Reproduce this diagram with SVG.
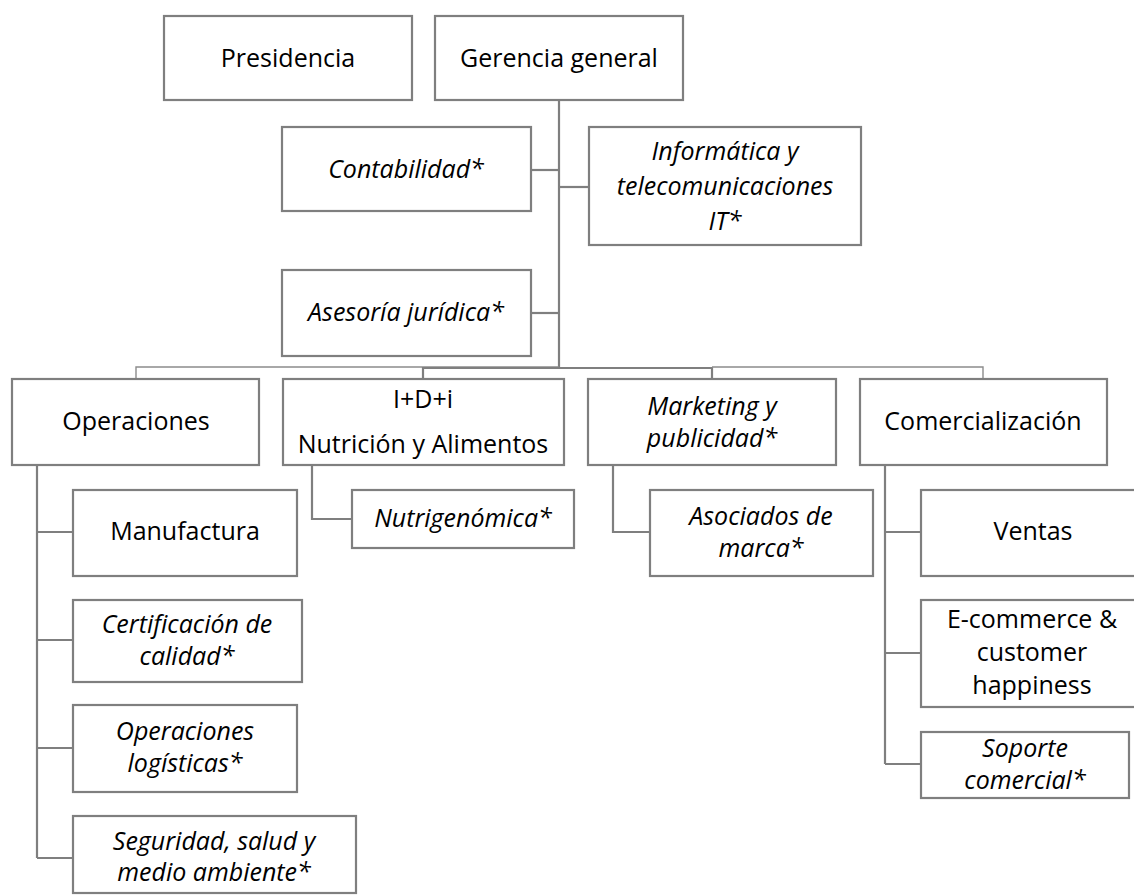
<svg xmlns="http://www.w3.org/2000/svg" width="1134" height="895" viewBox="0 0 1134 895">
  <style>
    .box { fill: #ffffff; stroke: #7f7f7f; stroke-width: 2.2; }
    .t { font-family: "Open Sans", "Noto Sans", "Liberation Sans", sans-serif; font-size: 25px; fill: #000000; text-anchor: middle; }
    .i { font-style: italic; }
    .ln { fill: none; stroke: #7f7f7f; stroke-width: 2.2; }
    .thin { fill: none; stroke: #8c8c8c; stroke-width: 1.4; }
  </style>
  <rect width="1134" height="895" fill="#ffffff"/>

  <!-- connectors -->
  <g id="connectors">
    <path class="ln" d="M559,100 V368"/>
    <path class="ln" d="M531,170 H559"/>
    <path class="ln" d="M559,187 H589"/>
    <path class="ln" d="M531,313 H559"/>
    <path class="thin" d="M136,379 V367 H559"/>
    <path class="ln" d="M423,379 V368 H712 V379"/>
    <path class="thin" d="M712,367 H983 V379"/>
    <path class="ln" d="M37,465 V858 M37,532 H73 M37,640 H73 M37,748 H73 M37,858 H73"/>
    <path class="ln" d="M312,465 V519 H352"/>
    <path class="ln" d="M613,465 V532 H650"/>
    <path class="ln" d="M885,465 V764 M885,532 H921 M885,653 H921 M885,764 H921"/>
  </g>

  <g id="presidencia">
    <rect class="box" x="164" y="16" width="248" height="84"/>
    <text class="t" x="288" y="67">Presidencia</text>
  </g>
  <g id="gerencia-general">
    <rect class="box" x="435" y="16" width="248" height="84"/>
    <text class="t" x="559" y="67">Gerencia general</text>
  </g>
  <g id="contabilidad">
    <rect class="box" x="282" y="127" width="249" height="84"/>
    <text class="t i" x="406" y="178">Contabilidad*</text>
  </g>
  <g id="informatica">
    <rect class="box" x="589" y="127" width="272" height="118"/>
    <text class="t i" x="725" y="160">Informática y</text>
    <text class="t i" x="725" y="195">telecomunicaciones</text>
    <text class="t i" x="725" y="230">IT*</text>
  </g>
  <g id="asesoria-juridica">
    <rect class="box" x="282" y="270" width="249" height="86"/>
    <text class="t i" x="406" y="321">Asesoría jurídica*</text>
  </g>

  <g id="operaciones">
    <rect class="box" x="12" y="379" width="247" height="86"/>
    <text class="t" x="136" y="430">Operaciones</text>
  </g>
  <g id="idi">
    <rect class="box" x="283" y="379" width="281" height="86"/>
    <text class="t" x="423" y="408">I+D+i</text>
    <text class="t" x="423" y="453">Nutrición y Alimentos</text>
  </g>
  <g id="marketing">
    <rect class="box" x="588" y="379" width="248" height="86"/>
    <text class="t i" x="712" y="415">Marketing y</text>
    <text class="t i" x="712" y="447">publicidad*</text>
  </g>
  <g id="comercializacion">
    <rect class="box" x="860" y="379" width="247" height="86"/>
    <text class="t" x="983" y="430">Comercialización</text>
  </g>

  <g id="manufactura">
    <rect class="box" x="73" y="490" width="224" height="86"/>
    <text class="t" x="185" y="540">Manufactura</text>
  </g>
  <g id="certificacion">
    <rect class="box" x="73" y="600" width="229" height="82"/>
    <text class="t i" x="187" y="633">Certificación de</text>
    <text class="t i" x="187" y="665">calidad*</text>
  </g>
  <g id="operaciones-logisticas">
    <rect class="box" x="73" y="705" width="224" height="87"/>
    <text class="t i" x="185" y="740">Operaciones</text>
    <text class="t i" x="185" y="772">logísticas*</text>
  </g>
  <g id="seguridad">
    <rect class="box" x="73" y="816" width="283" height="77"/>
    <text class="t i" x="214" y="850">Seguridad, salud y</text>
    <text class="t i" x="214" y="881">medio ambiente*</text>
  </g>

  <g id="nutrigenomica">
    <rect class="box" x="352" y="490" width="222" height="58"/>
    <text class="t i" x="463" y="527">Nutrigenómica*</text>
  </g>
  <g id="asociados-marca">
    <rect class="box" x="650" y="490" width="223" height="86"/>
    <text class="t i" x="761" y="525">Asociados de</text>
    <text class="t i" x="761" y="557">marca*</text>
  </g>

  <g id="ventas">
    <rect class="box" x="921" y="490" width="226" height="86"/>
    <text class="t" x="1033" y="540">Ventas</text>
  </g>
  <g id="ecommerce">
    <rect class="box" x="921" y="600" width="226" height="107"/>
    <text class="t" x="1032" y="628">E-commerce &amp;</text>
    <text class="t" x="1032" y="661">customer</text>
    <text class="t" x="1032" y="694">happiness</text>
  </g>
  <g id="soporte-comercial">
    <rect class="box" x="921" y="732" width="208" height="66"/>
    <text class="t i" x="1025" y="757">Soporte</text>
    <text class="t i" x="1025" y="789">comercial*</text>
  </g>
</svg>
